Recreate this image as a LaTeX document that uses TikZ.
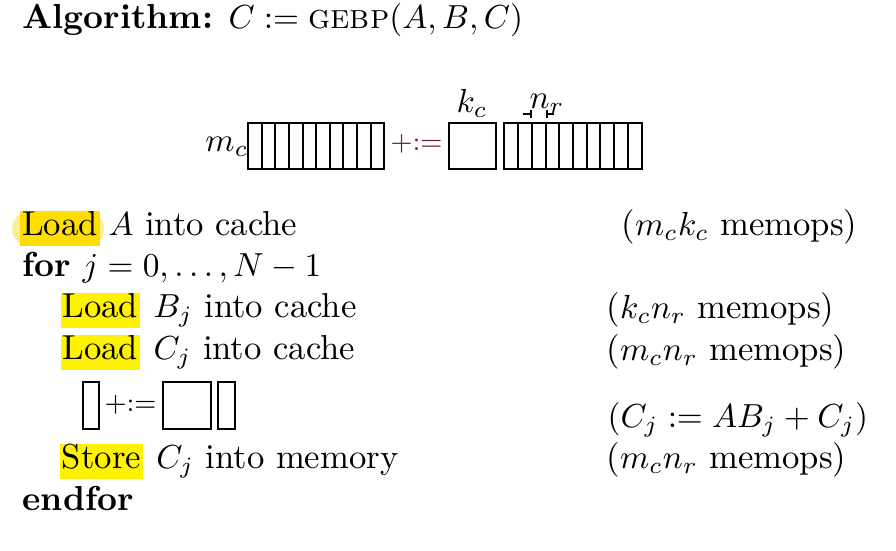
\documentclass[tikz,border=0pt]{standalone}
\usepackage{amsmath}
\usetikzlibrary{arrows.meta,positioning}

\definecolor{hlgold}{RGB}{255,222,0}
\definecolor{hlpale}{RGB}{255,236,150}
\definecolor{hlyellow}{RGB}{255,242,0}
\definecolor{opcolor}{RGB}{110,30,70}

\begin{document}
\begin{tikzpicture}[x=0.3pt,y=-0.3pt,
                    every node/.style={font=\fontsize{10.4}{12.5}\selectfont},
                    txt/.style={anchor=base west,inner sep=0pt},
                    hl/.style={anchor=base west,fill=hlyellow,inner xsep=0.6pt,inner ysep=0pt,
                               text height=7.2pt,text depth=3.2pt},
                    box/.style={draw,semithick},
                    op/.style={inner sep=0pt,font=\footnotesize}]
  \useasboundingbox (0,0) rectangle (896,550);

  % heading
  \node[txt] (title) at (22,28) {\textbf{Algorithm:} $C \mathrel{:=} \mbox{\textsc{gebp}}(A, B, C)$};

  % the block picture C +:= A B
  \draw[box] (248,123.3) rectangle (384.3,169.3);
  \foreach \i in {1,...,9}
    \draw[semithick] (248+13.63*\i,123.3) -- (248+13.63*\i,169.3);
  \node[txt,anchor=base east] (mc) at (249,151) {$m_c$};
  \node[op,text=opcolor] (upd) at (416.5,144) {$+{:}{=}$};
  \draw[box] (449.3,123.3) rectangle (496,169.3);
  \node[txt,anchor=base] (kc) at (472,112) {$k_c$};
  \draw[box] (504.3,123.3) rectangle (641.7,169.3);
  \foreach \i in {1,...,9}
    \draw[semithick] (504.3+13.74*\i,123.3) -- (504.3+13.74*\i,169.3);
  \node[txt] (nr) at (529,108) {$n_r$};
  \coordinate (nrl) at (523,114);
  \coordinate (nrla) at (532,114);
  \coordinate (nrr) at (554,114);
  \coordinate (nrra) at (546,114);
  \draw[semithick,-{Bar[width=2.4pt]}] (nrl) -- (nrla);
  \draw[semithick,-{Bar[width=2.4pt]}] (nrr) -- (nrra);

  % the loop
  \fill[hlpale,rounded corners=5pt] (12.3,211.7) rectangle (104,246);
  \node[hl,fill=hlgold] (ldA) at (19.5,235) {Load};
  \node[txt] (ldAt) at (108,235) {$A$ into cache};
  \node[txt] (for) at (22,276) {\textbf{for} $j = 0, \ldots, N-1$};
  \node[hl] (ldB) at (60,317) {Load};
  \node[txt] (ldBt) at ([xshift=3.6pt]ldB.base east) {$B_j$ into cache};
  \node[hl] (ldC) at (60,359) {Load};
  \node[txt] (ldCt) at ([xshift=3.6pt]ldC.base east) {$C_j$ into cache};

  % the block picture C_j +:= A B_j
  \draw[box] (82.7,381.7) rectangle (99.3,429.3);
  \node[op] (updj) at (130.5,405) {$+{:}{=}$};
  \draw[box] (162.7,381.7) rectangle (210.7,429.3);
  \draw[box] (218.3,381.7) rectangle (235,429.3);

  \node[hl] (stC) at (59.3,468) {Store};
  \node[txt] (stCt) at ([xshift=3.6pt]stC.base east) {$C_j$ into memory};
  \node[txt] (endfor) at (22,510) {\textbf{endfor}};

  % costs
  \node[txt] (cA) at (621,235) {($m_c k_c$~memops)};
  \node[txt] (cB) at (606,318) {($k_c n_r$~memops)};
  \node[txt] (cC) at (606,360) {($m_c n_r$~memops)};
  \node[txt] (cU) at (607,427) {$(C_j := A B_j + C_j)$};
  \node[txt] (cS) at (606,468) {($m_c n_r$~memops)};
\end{tikzpicture}
\end{document}
